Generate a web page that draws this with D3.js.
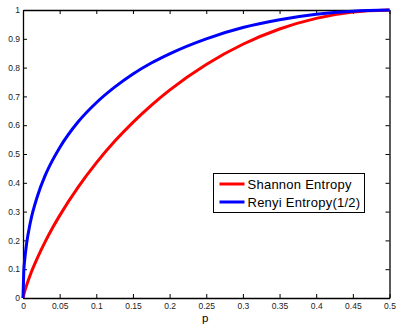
<!DOCTYPE html>
<html>
<head>
<meta charset="utf-8">
<script src="https://cdn.jsdelivr.net/npm/d3@7"></script>
<style>
  body { margin: 0; background: #fff; }
  svg { display: block; font-family: "Liberation Sans", Arial, sans-serif; }
  .axis text { fill: #222; font-size: 8.5px; }
  .axis path, .axis line { stroke: #000; }
</style>
</head>
<body>
<svg id="chart" width="396" height="325"></svg>
<script>
// probabilities along the x axis
const pValues = [0, 0.001, 0.0025, 0.005, 0.01, 0.02, 0.03, 0.04, 0.05, 0.075, 0.1, 0.125,
  0.15, 0.175, 0.2, 0.25, 0.3, 0.35, 0.4, 0.45, 0.5];
// Shannon entropy
const shannon = [0, 0.011, 0.025, 0.045, 0.081, 0.141, 0.194, 0.242, 0.286, 0.384, 0.469, 0.544,
  0.61, 0.669, 0.722, 0.811, 0.881, 0.934, 0.971, 0.993, 1];
// Renyi entropy (order 1/2)
const renyi = [0, 0.088, 0.137, 0.19, 0.262, 0.356, 0.424, 0.477, 0.522, 0.611, 0.678, 0.732,
  0.778, 0.816, 0.848, 0.9, 0.939, 0.966, 0.985, 0.996, 1];
const xTicks = [0, 0.05, 0.1, 0.15, 0.2, 0.25, 0.3, 0.35, 0.4, 0.45, 0.5];
const yTicks = [0, 0.1, 0.2, 0.3, 0.4, 0.5, 0.6, 0.7, 0.8, 0.9, 1];
const seriesNames = ["Shannon Entropy", "Renyi Entropy(1/2)"];
const seriesColors = ["#ff0000", "#0000ff"];

const margin = {top: 10, right: 6.5, bottom: 27, left: 23};
const width = 396 - margin.left - margin.right;
const height = 325 - margin.top - margin.bottom;

const svg = d3.select("svg#chart")
  .append("g")
  .attr("transform", "translate(" + margin.left + "," + margin.top + ")");

const x = d3.scaleLinear().domain([0, 0.5]).range([0, width]);
const y = d3.scaleLinear().domain([0, 1]).range([height, 0]);
const fmt = d => d3.format("")(+d.toFixed(2));

// bottom + left with labels, ticks pointing inward
svg.append("g")
  .attr("class", "axis axis--x")
  .attr("transform", "translate(0," + height + ")")
  .call(d3.axisBottom(x).tickValues(xTicks).tickFormat(fmt).tickSizeInner(-4).tickSizeOuter(0).tickPadding(5));

svg.append("g")
  .attr("class", "axis axis--y")
  .call(d3.axisLeft(y).tickValues(yTicks).tickFormat(fmt).tickSizeInner(-4).tickSizeOuter(0).tickPadding(3));

// top + right ticks only
svg.append("g")
  .attr("class", "axis")
  .call(d3.axisTop(x).tickValues(xTicks).tickFormat("").tickSizeInner(-4).tickSizeOuter(0));

svg.append("g")
  .attr("class", "axis")
  .attr("transform", "translate(" + width + ",0)")
  .call(d3.axisRight(y).tickValues(yTicks).tickFormat("").tickSizeInner(-4).tickSizeOuter(0));

svg.selectAll(".axis path").attr("stroke-width", 1.3);

const line = vals => d3.line()
  .x((d, i) => x(pValues[i]))
  .y(d => y(d))
  .curve(d3.curveMonotoneX)(vals);

[shannon, renyi].forEach((vals, i) => {
  svg.append("path")
    .attr("fill", "none")
    .attr("stroke", seriesColors[i])
    .attr("stroke-width", 3)
    .attr("d", line(vals));
});

svg.append("text")
  .attr("x", width / 2 - 1)
  .attr("y", height + 23.5)
  .attr("text-anchor", "middle")
  .style("font-size", "11.5px")
  .text("p");

// legend
const lg = svg.append("g").attr("transform", "translate(" + (213.5 - margin.left) + "," + (173.5 - margin.top) + ")");
lg.append("rect")
  .attr("width", 151)
  .attr("height", 39)
  .attr("fill", "#fff")
  .attr("stroke", "#000")
  .attr("stroke-width", 1);

seriesNames.forEach((name, i) => {
  const yy = 10.5 + i * 18;
  lg.append("line")
    .attr("x1", 6).attr("x2", 31)
    .attr("y1", yy).attr("y2", yy)
    .attr("stroke", seriesColors[i])
    .attr("stroke-width", 3);
  lg.append("text")
    .attr("x", 34)
    .attr("y", yy)
    .attr("dy", ".38em")
    .style("font-size", "13px")
    .style("letter-spacing", "0.25px")
    .text(name);
});
</script>
</body>
</html>
